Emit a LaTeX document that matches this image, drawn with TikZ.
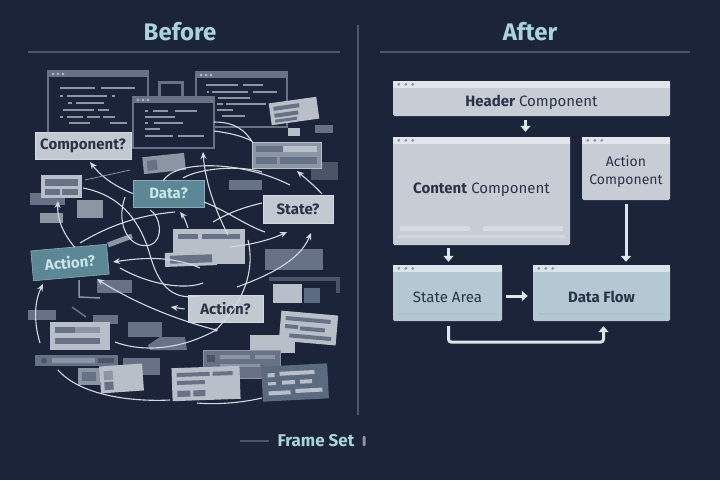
\documentclass[tikz,border=0pt]{standalone}
\usepackage{fontspec}
\setmainfont{Fira Sans}
\usepackage{tikz}
\usepackage{xcolor}
\usetikzlibrary{positioning,arrows.meta,calc}
\definecolor{fsbg}{HTML}{1B2438}
\definecolor{fstitle}{HTML}{A9D5DA}
\definecolor{fsline}{HTML}{4C566A}
\definecolor{fsink}{HTML}{2B3447}
\definecolor{fsbox}{HTML}{C8CDD5}
\definecolor{fsbar}{HTML}{E2E5EA}
\definecolor{fsstate}{HTML}{B3C8D2}
\definecolor{fsstbar}{HTML}{DAE4EA}
\definecolor{fsteal}{HTML}{5B8894}
\definecolor{fsflow}{HTML}{DCE6EC}
\definecolor{fsmess}{HTML}{D3D9E0}
\definecolor{gA}{HTML}{4B5567}
\definecolor{gB}{HTML}{687286}
\definecolor{gC}{HTML}{8C95A4}
\definecolor{gD}{HTML}{B9BFC9}
\definecolor{gE}{HTML}{5A6B80}
\tikzset{
  title/.style    ={font=\fontsize{24}{28}\selectfont\bfseries, text=fstitle, inner sep=0pt},
  titleline/.style={draw=fsline, line width=1.2pt},
  divline/.style  ={draw=fsline, line width=1.4pt},
  win/.style      ={draw=gB, line width=1.5pt, fill=fsbg},
  codeln/.style   ={draw=gC, line width=1.6pt},
  mess/.style     ={draw=fsmess, line width=1.1pt},
  messarr/.style  ={mess, -{Stealth[length=7pt, width=6pt]}},
  qlight/.style   ={fill=gD!85!white, draw=gD!60!white, line width=0.6pt, text=fsink,
                    font=\fontsize{15}{18}\selectfont\bfseries, minimum height=27pt, inner sep=0pt},
  qteal/.style    ={qlight, fill=fsteal, draw=fsteal!70!white, text=fstitle!60!white},
  comp/.style     ={fill=fsbox, rounded corners=1.5pt, inner sep=0pt},
  stbox/.style    ={comp, fill=fsstate},
  comptext/.style ={font=\fontsize{15}{18}\selectfont, text=fsink, align=center, inner sep=0pt},
  flow/.style     ={draw=fsflow, line width=3pt, -{Triangle[length=6pt, width=10pt]}},
}
\newcommand{\winbar}[3]{%
  \fill[gB] (#1,#2) rectangle (#3,#2+6);
  \foreach \d in {0,1,2} \fill[gD] (#1+5+\d*5,#2+3) circle (1.3);}
\newcommand{\compbar}[2]{%
  \fill[#2] ($(#1.north west)+(0.5,0)$) rectangle ($(#1.north east)+(-0.5,7)$);
  \foreach \d in {0,1,2} \fill[gC] ($(#1.north west)+(6+\d*7,3.5)$) circle (1.6);}

\begin{document}
\begin{tikzpicture}[x=1pt, y=-1pt]
  \fill[fsbg] (0,0) rectangle (720,480);
  \useasboundingbox (0,0) rectangle (720,480);

  % headings
  \node[title] (before) at (180,32) {Before};
  \node[title] (after) at (530,32) {After};
  \draw[titleline] (28,52) -- (340,52);
  \draw[titleline] (380,52) -- (690,52);
  \draw[divline] (358,25) -- (358,415);

  % ---- before: code windows
  \draw[win] (48,71) rectangle (148,133);
  \winbar{48}{71}{148}
  \foreach \xa/\xb/\yy in {60/95/88, 101/135/88, 60/63/96, 67/107/96, 112/115/96,
      68/72/103, 76/104/103, 63/94/110, 98/109/110, 60/63/117, 67/83/117,
      87/100/117, 103/115/117, 69/90/123, 110/127/123}
    \draw[codeln] (\xa,\yy) -- (\xb,\yy);
  \draw[win] (196,72) rectangle (287,127);
  \winbar{196}{72}{287}
  \foreach \xa/\xb/\yy in {206/238/85, 243/263/85, 207/209/92, 212/248/92, 253/277/92,
      218/250/98, 217/223/104, 226/266/104, 217/233/110, 222/245/116}
    \draw[codeln] (\xa,\yy) -- (\xb,\yy);
  \draw[gB, line width=3pt] (159,82) rectangle (182,98);
  \draw[win] (133,97) rectangle (214,148);
  \winbar{133}{97}{214}
  \foreach \xa/\xb/\yy in {145/148/111, 153/168/111, 175/197/111, 145/175/117,
      145/148/123, 154/183/123, 145/160/129, 145/173/136, 178/204/136}
    \draw[codeln] (\xa,\yy) -- (\xb,\yy);

  % ---- before: scattered frames
  \foreach \xa/\ya/\xb/\yb/\cl in {311/162/338/180/gA, 288/128/300/136/gD,
      315/125/333/133/gB, 30/193/65/205/gB, 77/200/103/218/gC, 40/213/63/223/gC,
      229/180/262/190/gB, 265/249/323/270/gB, 97/280/132/293/gB, 28/310/56/320/gB,
      93/315/118/324/gB, 128/322/162/337/gB, 123/358/160/375/gB, 250/335/295/353/gD,
      273/284/302/303/gD, 304/288/320/303/gE}
    \fill[\cl] (\xa,\ya) rectangle (\xb,\yb);
  \draw[gA, line width=4pt] (269,279) -- (338,279) -- (338,293);
  \filldraw[fill=gC, draw=gD, line width=1pt] (252,142) rectangle (321,168);
  \foreach \xa/\ya/\xb/\yb/\cl in {256/146/283/152/gB, 283/146/317/152/gD,
      256/157/277/164/gB, 280/157/317/164/gB,
      41/175/82/198/gD, 45/179/78/186/gB, 45/189/60/195/gB, 62/189/78/195/gB,
      173/229/245/264/gD, 178/234/198/239/gB, 202/234/240/239/gB,
      50/322/110/350/gD, 55/327/75/333/gB, 75/327/100/333/gC, 55/338/100/344/gB,
      35/355/118/366/gB, 52/358/95/363/gC, 98/358/114/363/gA,
      78/368/100/385/gC, 82/372/96/381/gB}
    \fill[\cl] (\xa,\ya) rectangle (\xb,\yb);
  \fill[gA] (44,360.5) circle (3);
  \filldraw[fill=gB, draw=gC, line width=1pt] (203,350) rectangle (280,378);
  \foreach \xa/\ya/\xb/\yb/\cl in {207/355/215/362/gA, 220/355/250/359/gC,
      255/355/275/359/gC, 220/364/260/367/gC}
    \fill[\cl] (\xa,\ya) rectangle (\xb,\yb);
  \fill[gB] (148,345) -- (160,337) -- (185,337) -- (187,350) -- (150,350) -- cycle;
  \draw[gC, line width=5pt] (108,245) -- (132,236);
  \draw[gC, line width=1.5pt] (79,280) -- (79,297) -- (100,298);
  \draw[gB, line width=1.5pt] (72,307) -- (86,317);
  \begin{scope}[rotate around={8:(294,111)}]
    \fill[gD] (270,100) rectangle (318,122);
    \fill[gB] (274,104) rectangle (300,108);
    \fill[gB] (274,111) rectangle (298,115);
    \fill[gB] (274,117) rectangle (296,120);
  \end{scope}
  \begin{scope}[rotate around={6:(164,163)}]
    \fill[gC] (143,155) rectangle (185,172);
    \fill[gB] (147,159) rectangle (157,169);
  \end{scope}
  \begin{scope}[rotate around={2:(191,259)}]
    \fill[gD] (165,252) rectangle (217,266);
    \fill[gB] (170,255) rectangle (212,263);
  \end{scope}
  \begin{scope}[rotate around={4:(121,378)}]
    \fill[gD] (100,365) rectangle (143,392);
    \fill[gC] (104,370) rectangle (113,379);
    \fill[gB] (104,381) rectangle (113,389);
  \end{scope}
  \begin{scope}[rotate around={2:(206,383)}]
    \fill[gD] (172,367) rectangle (240,400);
    \foreach \xa/\ya/\xb/\yb in {177/372/210/376, 213/372/233/376, 177/380/205/384,
        177/390/190/396, 193/390/205/396}
      \fill[gB] (\xa,\ya) rectangle (\xb,\yb);
  \end{scope}
  \begin{scope}[rotate around={-5:(308,328)}]
    \fill[gD] (280,313) rectangle (337,343);
    \foreach \xa/\ya/\xb/\yb in {285/318/330/322, 285/326/298/330, 300/327/325/331,
        290/335/332/339}
      \fill[gB] (\xa,\ya) rectangle (\xb,\yb);
  \end{scope}
  \begin{scope}[rotate around={3:(295,382)}]
    \fill[gE] (262,365) rectangle (328,400);
    \foreach \xa/\ya/\xb/\yb in {268/372/275/376, 280/371/315/375, 268/381/276/384,
        282/380/295/384, 300/380/312/384, 268/390/290/394, 295/389/322/393}
      \fill[gD] (\xa,\ya) rectangle (\xb,\yb);
  \end{scope}

  % ---- before: labels
  \node[qlight, minimum width=96pt] (qcomp) at (83,145.5) {Component?};
  \node[qteal, minimum width=71pt] (qdata) at (168.5,193.5) {Data?};
  \node[qlight, minimum width=70pt, minimum height=28pt] (qstate) at (298,209) {State?};
  \node[qteal, minimum width=76pt, minimum height=30pt, rotate=5] (qact) at (70,262.5) {Action?};
  \node[qlight, minimum width=75pt] (qact2) at (225.5,309) {Action?};

  % ---- before: tangled flows
  \draw[messarr] (qdata.west) .. controls (112,185) and (100,175) .. (90,162);
  \draw[messarr] ($(qact.north)+(6,0)$) .. controls (62,232) and (57,218) .. (58,201);
  \draw[messarr] (40,343) .. controls (33,320) and (35,300) .. (43,284);
  \draw[messarr] (216,330) .. controls (170,318) and (130,300) .. (97,279);
  \fill[fsmess] (216,330) circle (1.8);
  \draw[mess] (115,342) .. controls (150,355) and (190,345) .. (216,330);
  \draw[messarr] ($(qact2.west)+(-3,0)$) -- ++(-14,-2);
  \draw[messarr] (200,268) .. controls (170,255) and (140,258) .. (113,262);
  \draw[messarr] (230,247) .. controls (250,245) and (270,240) .. (287,232);
  \draw[messarr] (237,287) .. controls (270,275) and (300,260) .. (311,233);
  \draw[messarr] (228,235) .. controls (215,210) and (205,180) .. (203,152);
  \draw[messarr] (188,228) .. controls (186,222) and (184,217) .. (180,212);
  \draw[messarr] (322,194) .. controls (315,186) and (305,178) .. (297,171);
  \draw[mess] (163,181) .. controls (175,160) and (240,160) .. (290,185);
  \draw[mess] (183,178) .. controls (200,168) and (240,165) .. (262,172);
  \draw[mess] (214,122) .. controls (235,122) and (245,130) .. (253,143);
  \draw[mess] (214,131) .. controls (230,133) and (242,136) .. (252,141);
  \draw[gC, line width=0.8pt] (85,180) -- (130,170);
  \draw[mess] (83,188) .. controls (120,195) and (140,220) .. (150,255)
    .. controls (160,290) and (175,300) .. (200,296);
  \draw[mess] (125,197) .. controls (115,225) and (130,250) .. (150,245)
    .. controls (165,240) and (160,215) .. (150,210);
  \draw[mess] (80,243) .. controls (110,225) and (140,215) .. (175,212);
  \draw[mess] (58,370) .. controls (80,395) and (130,402) .. (170,400);
  \draw[mess] (197,403) .. controls (220,405) and (245,402) .. (262,398);
  \draw[mess] (216,330) .. controls (245,300) and (255,270) .. (248,240);
  \draw[mess] (120,268) .. controls (150,285) and (185,290) .. (203,283);
  \draw[mess] (213,222) .. controls (230,212) and (245,207) .. (262,203);
  \draw[mess] (204,202) .. controls (225,210) and (245,225) .. (265,232);

  % ---- after: component layout
  \node[comp, minimum width=277pt, minimum height=35pt] (hdr) at (531.5,98.5) {};
  \compbar{hdr}{fsbar}
  \node[comptext] (hdrtxt) at ($(hdr.center)+(0,4)$) {\textbf{Header} Component};
  \node[comp, minimum width=177pt, minimum height=108pt] (cnt) at (481.5,191) {};
  \compbar{cnt}{fsbar}
  \fill[fsbar!60!fsbox] (400,226) rectangle (470,231);
  \fill[fsbar!60!fsbox] (483,226) rectangle (563,231);
  \fill[fsbar!40!fsbox] (398,235) rectangle (565,238);
  \node[comptext] (cnttxt) at ($(cnt.center)+(0,-1)$) {\textbf{Content} Component};
  \node[comp, minimum width=88pt, minimum height=63pt] (act) at (626,168.5) {};
  \compbar{act}{fsbar}
  \node[comptext, font=\fontsize{14}{18}\selectfont] (acttxt) at ($(act.center)+(0,3.5)$)
    {Action\\Component};
  \node[stbox, minimum width=109pt, minimum height=56pt] (st) at (447.5,293) {};
  \compbar{st}{fsstbar}
  \fill[fsstate!85!gC] ($(st.south west)+(5,-8)$) rectangle ($(st.south east)+(-5,-6)$);
  \node[comptext] (sttxt) at ($(st.center)+(0,4)$) {State Area};
  \node[stbox, minimum width=137pt, minimum height=56pt] (df) at (601.5,293) {};
  \compbar{df}{fsstbar}
  \fill[fsstate!85!gC] ($(df.south west)+(5,-8)$) rectangle ($(df.south east)+(-5,-6)$);
  \node[comptext, font=\fontsize{15}{18}\selectfont\bfseries] (dftxt) at ($(df.center)+(0,4)$)
    {Data Flow};

  \draw[flow] ($(hdr.south)+(-6,4)$) -- ($(cnt.north -| hdr.south)+(-6,-5)$);
  \draw[flow] ($(cnt.south -| st.north)+(1,3)$) -- ($(st.north)+(1,-3)$);
  \draw[flow] ($(act.south)+(0,4)$) -- ($(df.north -| act.south)+(0,-3)$);
  \draw[flow] ($(st.east)+(4,3)$) -- ($(df.west)+(-5,3)$);
  \draw[flow, rounded corners=3pt] ($(st.south)+(1,5)$) -- ++(0,16) -| ($(df.south)+(2,5)$);

  % footer
  \node[title, font=\fontsize{17}{20}\selectfont\bfseries] (fset) at (316,441) {Frame Set};
  \draw[titleline] ($(fset.west)+(-8,0)$) -- ++(-29,0);
  \fill[gC, rounded corners=1pt] ($(fset.east)+(8,-5)$) rectangle ++(3,10);

\end{tikzpicture}
\end{document}
